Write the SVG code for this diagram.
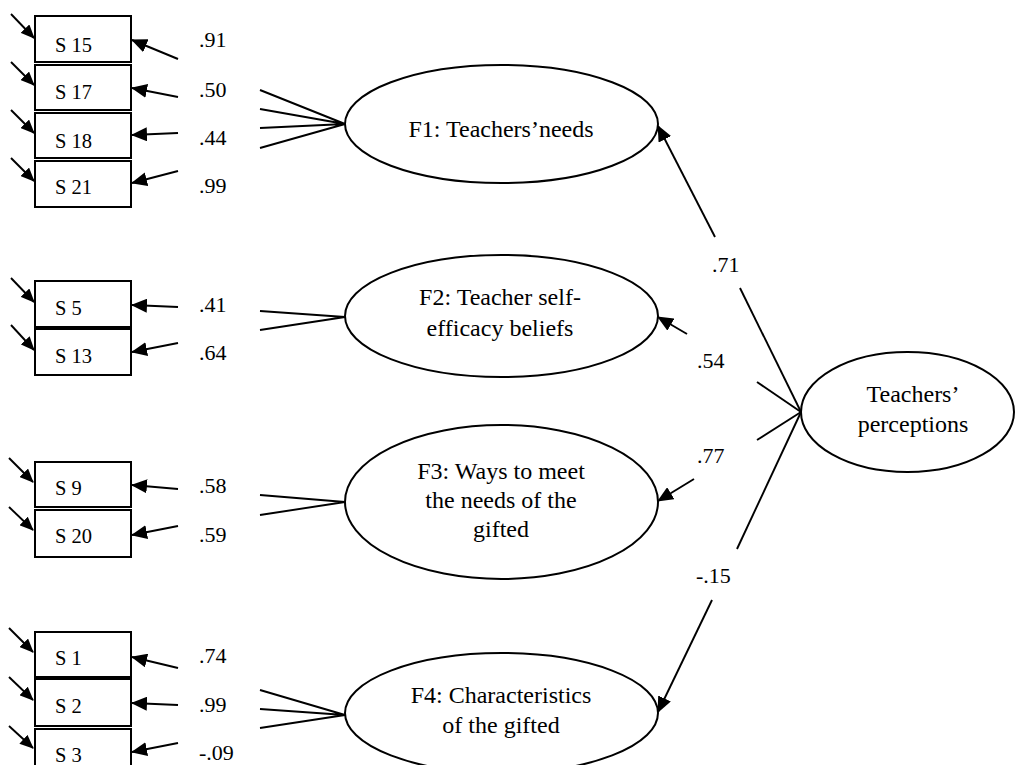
<svg xmlns="http://www.w3.org/2000/svg" width="1016" height="765" viewBox="0 0 1016 765">
<defs>
<marker id="ah" markerUnits="userSpaceOnUse" markerWidth="16" markerHeight="14" viewBox="0 0 16 14" refX="15" refY="7" orient="auto">
<path d="M0,0 L16,7 L0,14 z" fill="#000"/>
</marker>
<marker id="ahs" markerUnits="userSpaceOnUse" markerWidth="14" markerHeight="12" viewBox="0 0 14 12" refX="13" refY="6" orient="auto">
<path d="M0,0 L14,6 L0,12 z" fill="#000"/>
</marker>
</defs>
<style>
.box{fill:#fff;stroke:#000;stroke-width:2}
.ell{fill:#fff;stroke:#000;stroke-width:2}
text{font-family:'Liberation Serif','Times New Roman','DejaVu Serif',serif;fill:#000}
.bt{font-size:20.5px}
.num{font-size:22px}
.et{font-size:24px;text-anchor:middle}
.ln{stroke:#000;stroke-width:1.9;fill:none}
.ar{stroke:#000;stroke-width:1.9;fill:none;marker-end:url(#ah)}
.ars{stroke:#000;stroke-width:1.9;fill:none;marker-end:url(#ahs)}
</style>
<rect width="1016" height="765" fill="#fff"/>

<g id="S15"><rect class="box" x="35" y="16" width="96" height="46"/><text class="bt" x="55" y="52">S 15</text></g>
<g id="S17"><rect class="box" x="35" y="65" width="96" height="45"/><text class="bt" x="55" y="99">S 17</text></g>
<g id="S18"><rect class="box" x="35" y="113" width="96" height="45"/><text class="bt" x="55" y="148">S 18</text></g>
<g id="S21"><rect class="box" x="35" y="161" width="96" height="46"/><text class="bt" x="55" y="194">S 21</text></g>
<g id="S5"><rect class="box" x="35" y="281" width="96" height="46"/><text class="bt" x="55" y="315">S 5</text></g>
<g id="S13"><rect class="box" x="35" y="329" width="96" height="46"/><text class="bt" x="55" y="363">S 13</text></g>
<g id="S9"><rect class="box" x="35" y="462" width="96" height="45"/><text class="bt" x="55" y="495">S 9</text></g>
<g id="S20"><rect class="box" x="35" y="510" width="96" height="47"/><text class="bt" x="55" y="543">S 20</text></g>
<g id="S1"><rect class="box" x="35" y="632" width="96" height="45"/><text class="bt" x="55" y="665">S 1</text></g>
<g id="S2"><rect class="box" x="35" y="679" width="96" height="47"/><text class="bt" x="55" y="713">S 2</text></g>
<g id="S3"><rect class="box" x="35" y="729" width="96" height="50"/><text class="bt" x="55" y="762">S 3</text></g>

<g id="F1"><ellipse class="ell" cx="501.5" cy="124" rx="156.5" ry="59"/><text class="et" x="501" y="137">F1: Teachers’needs</text></g>
<g id="F2"><ellipse class="ell" cx="501.5" cy="316" rx="156.5" ry="61"/><text class="et" x="500" y="305">F2: Teacher self-</text><text class="et" x="500" y="336">efficacy beliefs</text></g>
<g id="F3"><ellipse class="ell" cx="501.5" cy="502" rx="156.5" ry="77"/><text class="et" x="501" y="479">F3: Ways to meet</text><text class="et" x="501" y="508">the needs of the</text><text class="et" x="501" y="537">gifted</text></g>
<g id="F4"><ellipse class="ell" cx="501.5" cy="713" rx="156.5" ry="60"/><text class="et" x="501" y="703">F4: Characteristics</text><text class="et" x="501" y="733">of the gifted</text></g>
<g id="TP"><ellipse class="ell" cx="907.5" cy="412" rx="106.5" ry="60"/><text class="et" x="913" y="402">Teachers’</text><text class="et" x="913" y="432">perceptions</text></g>

<g id="labels">
<text class="num" x="199" y="47">.91</text>
<text class="num" x="199" y="97">.50</text>
<text class="num" x="199" y="145">.44</text>
<text class="num" x="199" y="193">.99</text>
<text class="num" x="199" y="312">.41</text>
<text class="num" x="199" y="360">.64</text>
<text class="num" x="199" y="493">.58</text>
<text class="num" x="199" y="542">.59</text>
<text class="num" x="199" y="663">.74</text>
<text class="num" x="199" y="712">.99</text>
<text class="num" x="199" y="760">-.09</text>
<text class="num" x="712" y="272">.71</text>
<text class="num" x="697" y="368">.54</text>
<text class="num" x="697" y="463">.77</text>
<text class="num" x="696" y="583">-.15</text>
</g>

<g id="connectors">
<line class="ar" x1="178" y1="59" x2="132" y2="40"/>
<line class="ar" x1="178" y1="97" x2="132" y2="88"/>
<line class="ar" x1="178" y1="133" x2="132" y2="135"/>
<line class="ar" x1="178" y1="171" x2="132" y2="183"/>
<line class="ar" x1="178" y1="307" x2="132" y2="305"/>
<line class="ar" x1="178" y1="343" x2="132" y2="352"/>
<line class="ar" x1="178" y1="489" x2="132" y2="485"/>
<line class="ar" x1="178" y1="526" x2="132" y2="535"/>
<line class="ar" x1="178" y1="668" x2="132" y2="657"/>
<line class="ar" x1="178" y1="705" x2="132" y2="703"/>
<line class="ar" x1="178" y1="743" x2="132" y2="752"/>

<line class="ars" x1="11" y1="14" x2="34" y2="38"/>
<line class="ars" x1="11" y1="62" x2="34" y2="85"/>
<line class="ars" x1="11" y1="110" x2="34" y2="133"/>
<line class="ars" x1="11" y1="158" x2="34" y2="181"/>
<line class="ars" x1="11" y1="278" x2="34" y2="302"/>
<line class="ars" x1="11" y1="325" x2="34" y2="350"/>
<line class="ars" x1="9" y1="458" x2="33" y2="482"/>
<line class="ars" x1="9" y1="507" x2="33" y2="530"/>
<line class="ars" x1="9" y1="628" x2="33" y2="652"/>
<line class="ars" x1="9" y1="677" x2="33" y2="700"/>
<line class="ars" x1="9" y1="726" x2="33" y2="748"/>

<path class="ln" d="M260,90 L345,124 M260,109 L345,124 M260,128 L345,124 M260,148 L345,124"/>
<path class="ln" d="M260,311 L345,317 M260,330 L345,317"/>
<path class="ln" d="M260,495 L345,502 M260,515 L345,502"/>
<path class="ln" d="M260,690 L345,715 M260,709 L345,715 M260,728 L345,715"/>

<line class="ar" x1="715" y1="237" x2="658" y2="126"/>
<line class="ln" x1="740" y1="288" x2="801" y2="412"/>
<line class="ar" x1="687" y1="334" x2="658" y2="317"/>
<line class="ln" x1="757" y1="382" x2="801" y2="412"/>
<line class="ar" x1="694" y1="479" x2="658" y2="501"/>
<line class="ln" x1="757" y1="440" x2="801" y2="412"/>
<line class="ar" x1="712" y1="600" x2="658" y2="712"/>
<line class="ln" x1="737" y1="549" x2="801" y2="412"/>
</g>
</svg>
